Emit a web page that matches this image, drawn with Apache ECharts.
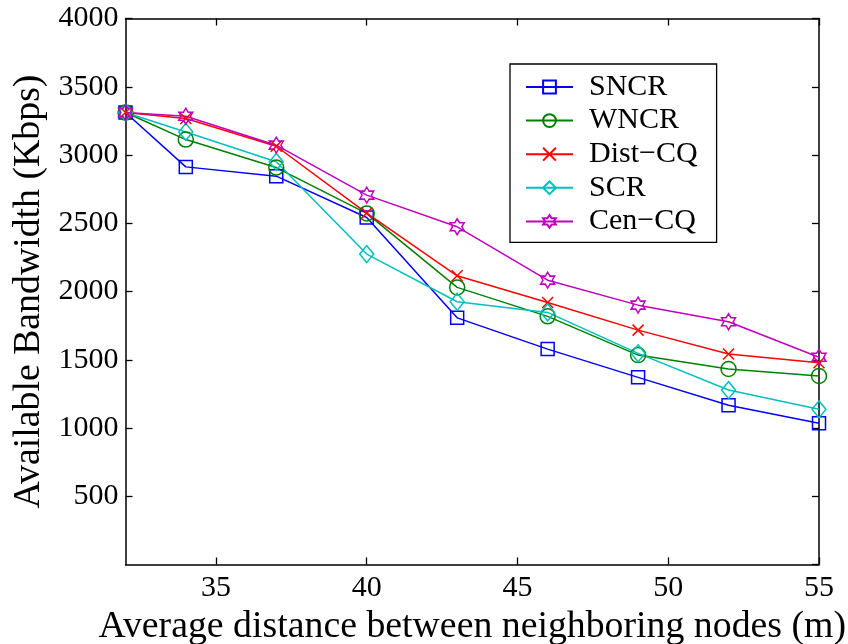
<!DOCTYPE html>
<html>
<head>
<meta charset="utf-8">
<script src="https://cdn.jsdelivr.net/npm/echarts@6/dist/echarts.min.js"></script>
<style>html,body{margin:0;padding:0;background:#fff}#c{width:848px;height:644px}</style>
</head>
<body>
<div id="c"></div>
<script>
var distances = [32, 34, 37, 40, 43, 46, 49, 52, 55];
var xTicks = [35, 40, 45, 50, 55];
var sncr   = [3311, 2913, 2845, 2542, 1807, 1578, 1371, 1166, 1034];
var wncr   = [3311, 3113, 2908, 2572, 2030, 1818, 1534, 1432, 1381];
var distCQ = [3311, 3267, 3064, 2574, 2115, 1920, 1717, 1542, 1478];
var scr    = [3311, 3169, 2950, 2274, 1925, 1847, 1547, 1278, 1137];
var cenCQ  = [3311, 3284, 3072, 2706, 2474, 2083, 1900, 1778, 1518];
var seriesNames = ['SNCR', 'WNCR', 'Dist\u2212CQ', 'SCR', 'Cen\u2212CQ'];

var FONT = 'Liberation Serif';
var hexagram = 'path://M50,0 L64.43,25 L93.3,25 L78.87,50 L93.3,75 L64.43,75 L50,100 L35.57,75 L6.7,75 L21.13,50 L6.7,25 L35.57,25 Z';
var cross = 'path://M0,0 L10,10 M10,0 L0,10';

function pairs(vals) { return distances.map(function (d, i) { return [d, vals[i]]; }); }
function mk(name, vals, color, symbol, size) {
  return {
    name: name, type: 'line', data: pairs(vals),
    symbol: symbol, symbolSize: size, showSymbol: true,
    lineStyle: { color: color, width: 1.5 },
    itemStyle: { color: 'rgba(255,255,255,0)', borderColor: color, borderWidth: 1.5 },
    emphasis: { disabled: true }, animation: false
  };
}
var axisCommon = {
  axisLine: { show: true, onZero: false, lineStyle: { color: '#000', width: 1.5 } },
  splitLine: { show: false }
};
var chart = echarts.init(document.getElementById('c'));
chart.setOption({
  backgroundColor: '#fff',
  animation: false,
  grid: { left: 125.5, right: 29, top: 18.5, bottom: 79.5, containLabel: false, outerBoundsMode: 'none' },
  legend: {
    orient: 'vertical', left: 510, top: 64,
    data: seriesNames,
    backgroundColor: '#fff', borderColor: '#000', borderWidth: 1.3, borderRadius: 0,
    padding: [8, 19, 6, 15],
    itemWidth: 47, itemHeight: 16, itemGap: 3.6,
    textStyle: { fontFamily: FONT, fontSize: 30, color: '#000', padding: [0, 0, 0, 11] }
  },
  xAxis: [
    Object.assign({}, axisCommon, {
      type: 'value', min: 32, max: 55, position: 'bottom',
      name: 'Average distance between neighboring nodes (m)', nameLocation: 'middle', nameGap: 33,
      nameTextStyle: { fontFamily: FONT, fontSize: 37.8, color: '#000' },
      axisTick: { show: true, inside: true, length: 7, customValues: xTicks, lineStyle: { color: '#000', width: 1.3 } },
      axisLabel: { show: true, customValues: xTicks, margin: 9, fontFamily: FONT, fontSize: 30, color: '#000' }
    }),
    Object.assign({}, axisCommon, {
      type: 'value', min: 32, max: 55, position: 'top',
      axisTick: { show: true, inside: true, length: 7, customValues: xTicks, lineStyle: { color: '#000', width: 1.3 } },
      axisLabel: { show: false }
    })
  ],
  yAxis: [
    Object.assign({}, axisCommon, {
      type: 'value', min: 0, max: 4000, interval: 500, position: 'left',
      name: 'Available Bandwidth (Kbps)', nameLocation: 'middle', nameGap: 63,
      nameTextStyle: { fontFamily: FONT, fontSize: 37.8, color: '#000' },
      axisTick: { show: true, inside: true, length: 7, lineStyle: { color: '#000', width: 1.3 } },
      axisLabel: { show: true, showMinLabel: false, margin: 7, fontFamily: FONT, fontSize: 30, color: '#000',
        formatter: function (v) { return String(v); } }
    }),
    Object.assign({}, axisCommon, {
      type: 'value', min: 0, max: 4000, interval: 500, position: 'right',
      axisTick: { show: true, inside: true, length: 7, lineStyle: { color: '#000', width: 1.3 } },
      axisLabel: { show: false }
    })
  ],
  series: [
    mk(seriesNames[0], sncr, '#0000ff', 'rect', 13),
    mk(seriesNames[1], wncr, '#008000', 'circle', 15),
    mk(seriesNames[2], distCQ, '#ff0000', cross, 11),
    mk(seriesNames[3], scr, '#00bfbf', 'diamond', [14, 17]),
    mk(seriesNames[4], cenCQ, '#bf00bf', hexagram, [14, 16])
  ]
});
</script>
</body>
</html>
